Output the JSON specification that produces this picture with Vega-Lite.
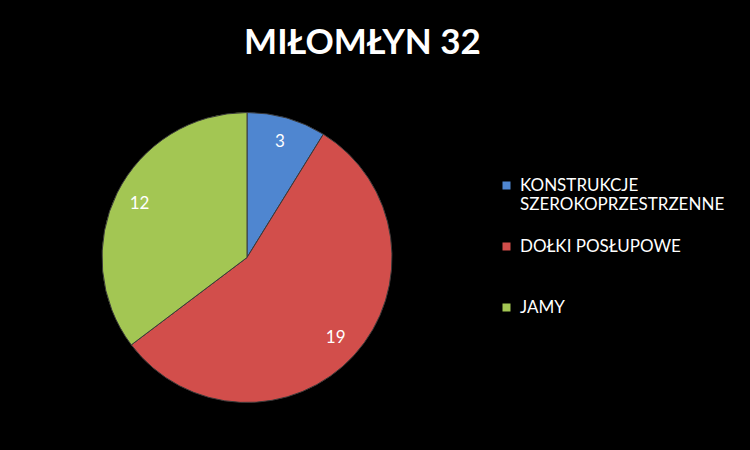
{
  "$schema": "https://vega.github.io/schema/vega-lite/v6.json",
  "autosize": {"type": "fit", "contains": "padding"},
  "width": 750,
  "height": 450,
  "padding": {"left": 0, "top": 26, "right": 25, "bottom": 42},
  "background": "#000000",
  "title": {
    "text": "MIŁOMŁYN 32",
    "font": "Lato",
    "fontSize": 35,
    "fontWeight": "bold",
    "color": "#ffffff",
    "anchor": "middle",
    "frame": "bounds",
    "offset": 46
  },
  "config": {
    "view": {"stroke": null},
    "legend": {
      "labelFont": "Lato",
      "labelFontSize": 17,
      "labelColor": "#ffffff",
      "labelLimit": 300,
      "labelOffset": 5,
      "symbolType": "square",
      "symbolSize": 64,
      "symbolStrokeWidth": 0,
      "rowPadding": 24,
      "gridAlign": "all"
    }
  },
  "data": {
    "values": [
      {"kategoria": "KONSTRUKCJE SZEROKOPRZESTRZENNE", "liczba": 3, "kolejnosc": 1},
      {"kategoria": "DOŁKI POSŁUPOWE", "liczba": 19, "kolejnosc": 2},
      {"kategoria": "JAMY", "liczba": 12, "kolejnosc": 3}
    ]
  },
  "encoding": {
    "theta": {"field": "liczba", "type": "quantitative", "stack": true},
    "order": {"field": "kolejnosc", "type": "quantitative"}
  },
  "layer": [
    {
      "mark": {"type": "arc", "outerRadius": 145, "stroke": "#3a3a3a", "strokeWidth": 1},
      "encoding": {
        "color": {
          "field": "kategoria",
          "type": "nominal",
          "scale": {
            "domain": ["KONSTRUKCJE SZEROKOPRZESTRZENNE", "DOŁKI POSŁUPOWE", "JAMY"],
            "range": ["#4F86D0", "#D24E4B", "#A3C653"]
          },
          "legend": {
            "title": " ",
            "titleFontSize": 4,
            "titlePadding": 66,
            "orient": "right",
            "offset": 4,
            "labelExpr": "datum.label == 'KONSTRUKCJE SZEROKOPRZESTRZENNE' ? ['KONSTRUKCJE', 'SZEROKOPRZESTRZENNE'] : datum.label",
            "encode": {
              "labels": {
                "enter": {"lineHeight": {"value": 22}},
                "update": {"lineHeight": {"value": 22}}
              }
            }
          }
        }
      }
    },
    {
      "mark": {"type": "text", "radius": 120, "font": "Lato", "fontSize": 17, "color": "#ffffff"},
      "encoding": {
        "text": {"field": "liczba", "type": "quantitative"}
      }
    }
  ]
}
